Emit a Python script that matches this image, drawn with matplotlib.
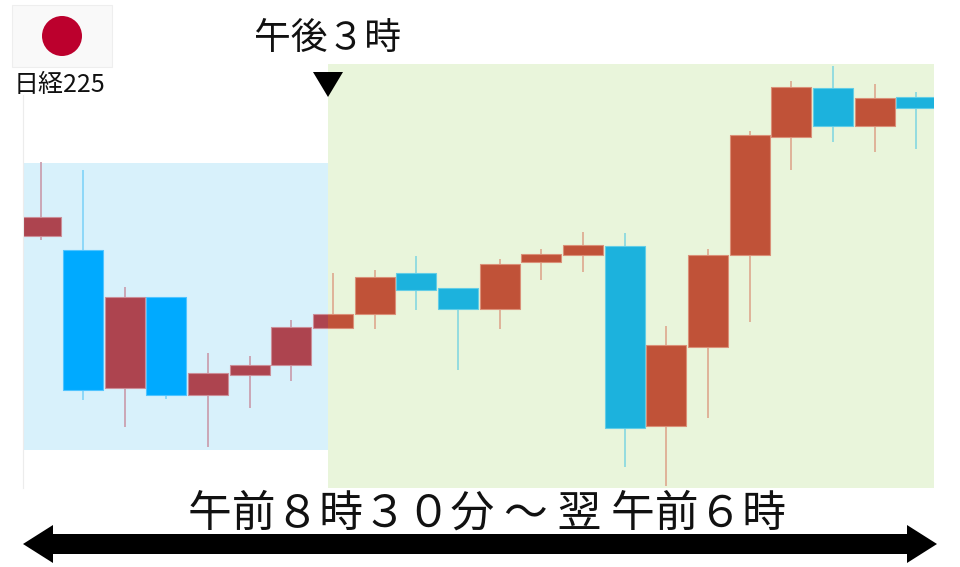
import matplotlib
matplotlib.use('Agg')
import matplotlib.pyplot as plt
from matplotlib.patches import Rectangle, Polygon, Circle
import numpy as np

plt.rcParams['font.family'] = ['Noto Sans CJK JP', 'DejaVu Sans']

# candles (no price scale shown, so arbitrary units)
opens = [331, 317, 178.5, 269.5, 172, 191.5, 201.5, 239, 252.5, 294, 278.5,
         258, 305, 311.5, 321, 141, 220, 311.3, 429.3, 479, 440.5, 469.5]
closes = [350, 176.5, 269.5, 172, 193.5, 201.5, 240, 252.5, 290, 277, 258,
          302.5, 312.5, 322, 139, 221.5, 311.3, 431, 479, 440.5, 468.5, 459]
highs = [405, 397, 280, 269.5, 214, 211, 247, 294, 297, 310.5, 278.5,
         308, 318, 334.5, 333.5, 241, 318, 436, 486, 500.5, 483, 475]
lows = [327, 167, 139.5, 167.5, 119.5, 159, 186, 239, 238, 256.5, 197,
        237.5, 286.5, 295, 99.5, 81, 149, 245, 396.5, 425, 414.5, 417.5]

# session bands: where the afternoon starts, and the morning band's range
split = 6.88
morning_lo = 117
morning_hi = 404

title_top = '午後３時'
title_bottom = '午前８時３０分 ～ 翌 午前６時'
index_name = '日経225'

x0, x1 = -0.436, 21.426
y0, y1 = 78.5, 502.5

fig = plt.figure(figsize=(9.6, 5.67), dpi=100)
ax = fig.add_axes([23/960, 1 - 488/567, 911/960, 424/567])
ax.set_xlim(x0, x1)
ax.set_ylim(y0, y1)
ax.axis('off')

ax.add_patch(Rectangle((x0, morning_lo), split - x0, morning_hi - morning_lo,
                       facecolor='#d8f1fb', edgecolor='none', zorder=1))
ax.add_patch(Rectangle((split, y0), x1 - split, y1 - y0,
                       facecolor='#e9f5db', edgecolor='none', zorder=1))

x = np.arange(len(opens))
o = np.array(opens)
c = np.array(closes)
up = c >= o
bottom = np.minimum(o, c)
height = np.abs(c - o)


def draw_candles(clip, body_up, edge_up, wick_up, body_dn, edge_dn, wick_dn):
    wicks = ax.vlines(x, lows, highs, colors=[wick_up if u else wick_dn for u in up],
                      linewidth=1.2, zorder=2)
    wicks.set_clip_path(clip)
    bars = ax.bar(x, height, 0.96, bottom=bottom,
                  color=[body_up if u else body_dn for u in up],
                  edgecolor=[edge_up if u else edge_dn for u in up],
                  linewidth=0.8, zorder=3)
    for b in bars:
        b.set_clip_path(clip)


clip_left = Rectangle((x0, y0), split - x0, y1 - y0, transform=ax.transData)
clip_right = Rectangle((split, y0), x1 - split, y1 - y0, transform=ax.transData)
draw_candles(clip_left, '#ad444f', '#cb8e98', '#c99aaa', '#00aaff', '#50c4ff', '#80d4f8')
draw_candles(clip_right, '#c05238', '#da9078', '#dda88e', '#1cb2dd', '#62cde6', '#85d8e0')

# annotations, in figure pixels
over = fig.add_axes([0, 0, 1, 1])
over.set_xlim(0, 960)
over.set_ylim(567, 0)
over.axis('off')
over.patch.set_alpha(0)

over.plot([23, 23], [95, 488], color='#ececec', linewidth=0.8, zorder=0)
over.add_patch(Rectangle((12, 5), 100, 62, facecolor='#f9f9f9', edgecolor='#eeeeee', linewidth=0.8))
over.add_patch(Circle((62, 36), 20, facecolor='#bc002d', edgecolor='none'))
over.text(60, 85, index_name, ha='center', va='center', fontsize=18, color='#111111')

over.text(328, 39, title_top, ha='center', va='center', fontsize=26.5, color='#111111')
over.add_patch(Polygon([(313, 72), (343, 72), (328, 97)], facecolor='black', edgecolor='none'))

over.text(487, 514, title_bottom, ha='center', va='center', fontsize=31.5, color='#111111')
over.add_patch(Polygon([(23, 544), (53, 525), (53, 534), (907, 534), (907, 525), (937, 544),
                        (907, 563), (907, 554), (53, 554), (53, 563)],
                       facecolor='black', edgecolor='none'))

fig.savefig('out.png', dpi=100)
